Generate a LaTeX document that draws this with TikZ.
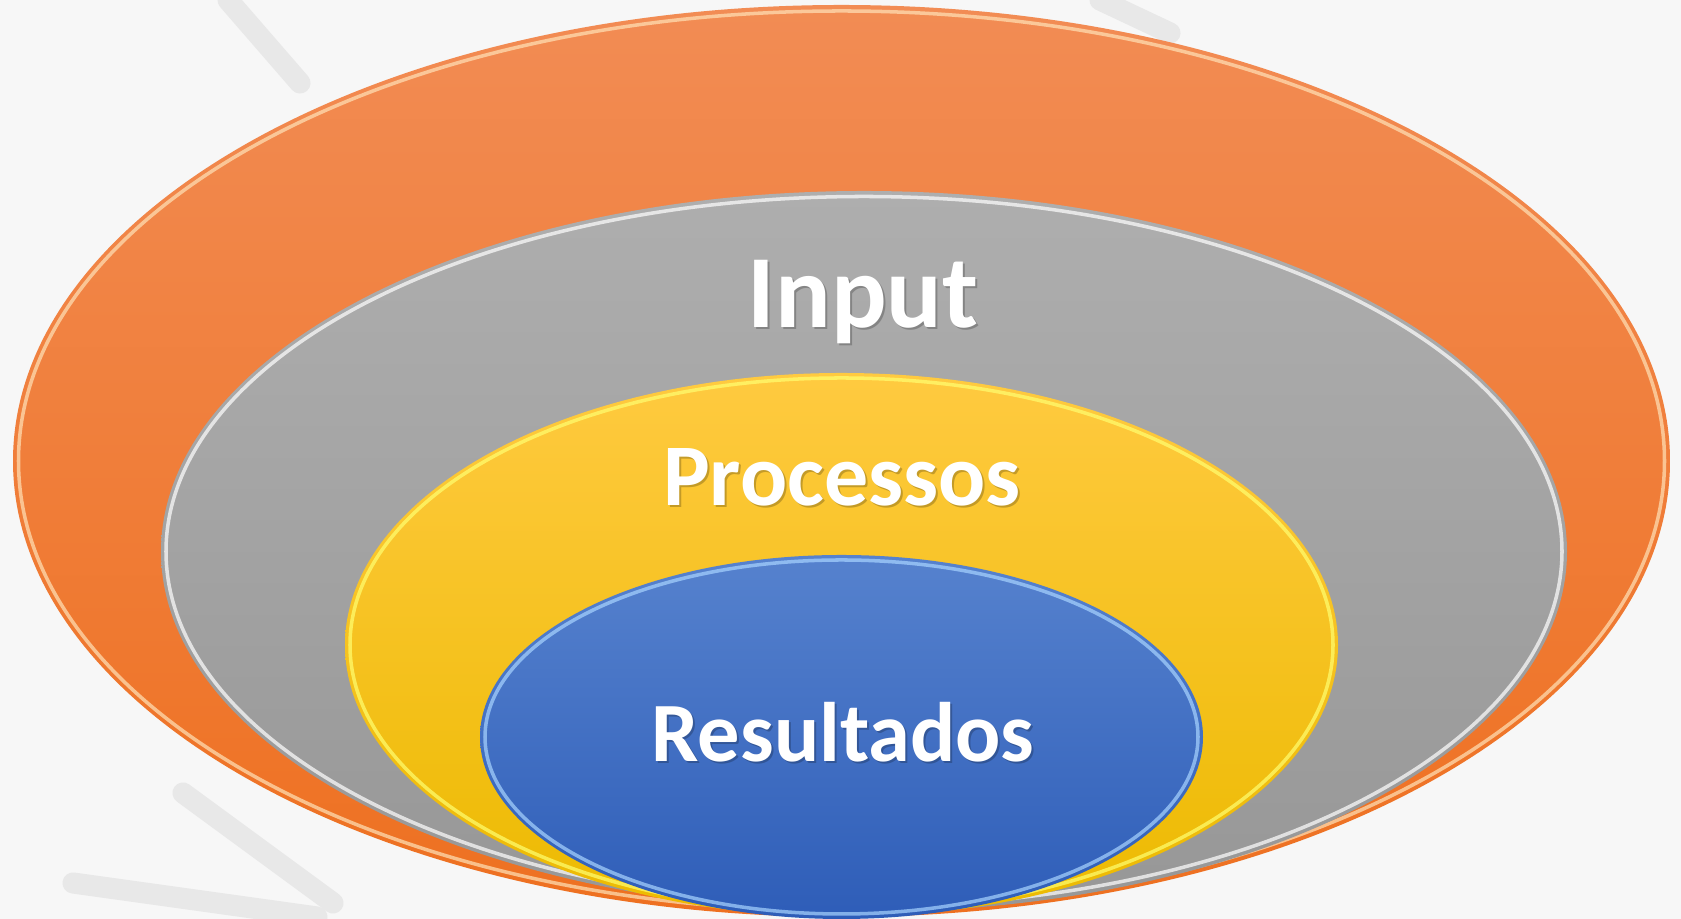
\documentclass[tikz,border=0pt]{standalone}
\usepackage{fontspec}
\setmainfont{Carlito}
\definecolor{bg_grey}{HTML}{F7F7F7}
\definecolor{brush_grey}{HTML}{E8E8E8}
\definecolor{ring_orange_top}{HTML}{F28C54}
\definecolor{ring_orange_bot}{HTML}{EE7020}
\definecolor{ring_orange_rim}{HTML}{FFE2B8}
\definecolor{ring_grey_top}{HTML}{AEAEAE}
\definecolor{ring_grey_bot}{HTML}{979797}
\definecolor{ring_yellow_top}{HTML}{FFCA40}
\definecolor{ring_yellow_bot}{HTML}{ECBA00}
\definecolor{ring_yellow_rim}{HTML}{FFFF70}
\definecolor{ring_blue_top}{HTML}{5682CE}
\definecolor{ring_blue_bot}{HTML}{2E5DB8}
\definecolor{ring_blue_rim}{HTML}{A8D4FF}

\begin{document}
\begin{tikzpicture}[x=0.01cm, y=0.01cm,
    brush/.style={brush_grey, line width=6pt, line cap=round},
    rim/.style={line width=1pt, opacity=0.7},
    ringlabel/.style={text=white, anchor=base, inner sep=0pt},
    ringshadow/.style={text=black, opacity=0.22, anchor=base, inner sep=0pt}]

    \fill[bg_grey] (0,0) rectangle (1681,919);
    \useasboundingbox (0,0) rectangle (1681,919);

    % faint brush strokes behind
    \foreach \a/\b in {{(228,919)}/{(300,836)}, {(1100,919)}/{(1170,886)},
                       {(183,126)}/{(333,16)}, {(73,36)}/{(317,2)}} {
        \draw[brush] \a -- \b;
    }

    % rings, outside in
    \shade[top color=ring_orange_top, bottom color=ring_orange_bot]
        (841.5,458) ellipse [x radius=828.5, y radius=456];
    \draw[rim, ring_orange_rim] (841.5,458) ellipse [x radius=823, y radius=450];

    \shade[top color=ring_grey_top, bottom color=ring_grey_bot]
        (864,367.5) ellipse [x radius=703, y radius=360.5];
    \draw[rim, white] (864,367.5) ellipse [x radius=698, y radius=355];

    \shade[top color=ring_yellow_top, bottom color=ring_yellow_bot]
        (841.5,274) ellipse [x radius=496.5, y radius=272];
    \draw[rim, ring_yellow_rim] (841.5,274) ellipse [x radius=491.5, y radius=267];

    \shade[top color=ring_blue_top, bottom color=ring_blue_bot]
        (841.5,182) ellipse [x radius=361.5, y radius=182];
    \draw[rim, ring_blue_rim] (841.5,182) ellipse [x radius=356.5, y radius=177];

    % labels
    \node[ringshadow, font=\bfseries\fontsize{29.5}{30}\selectfont] (input shadow) at (865,589) {Input};
    \node[ringlabel, font=\bfseries\fontsize{29.5}{30}\selectfont] (input) at (863,591) {Input};
    \node[ringshadow, font=\bfseries\fontsize{25}{26}\selectfont] (proc shadow) at (844,411) {Processos};
    \node[ringlabel, font=\bfseries\fontsize{25}{26}\selectfont] (proc) at (842,413) {Processos};
    \node[ringshadow, font=\bfseries\fontsize{24}{25}\selectfont] (res shadow) at (845,155) {Resultados};
    \node[ringlabel, font=\bfseries\fontsize{24}{25}\selectfont] (res) at (843,157) {Resultados};

\end{tikzpicture}
\end{document}
